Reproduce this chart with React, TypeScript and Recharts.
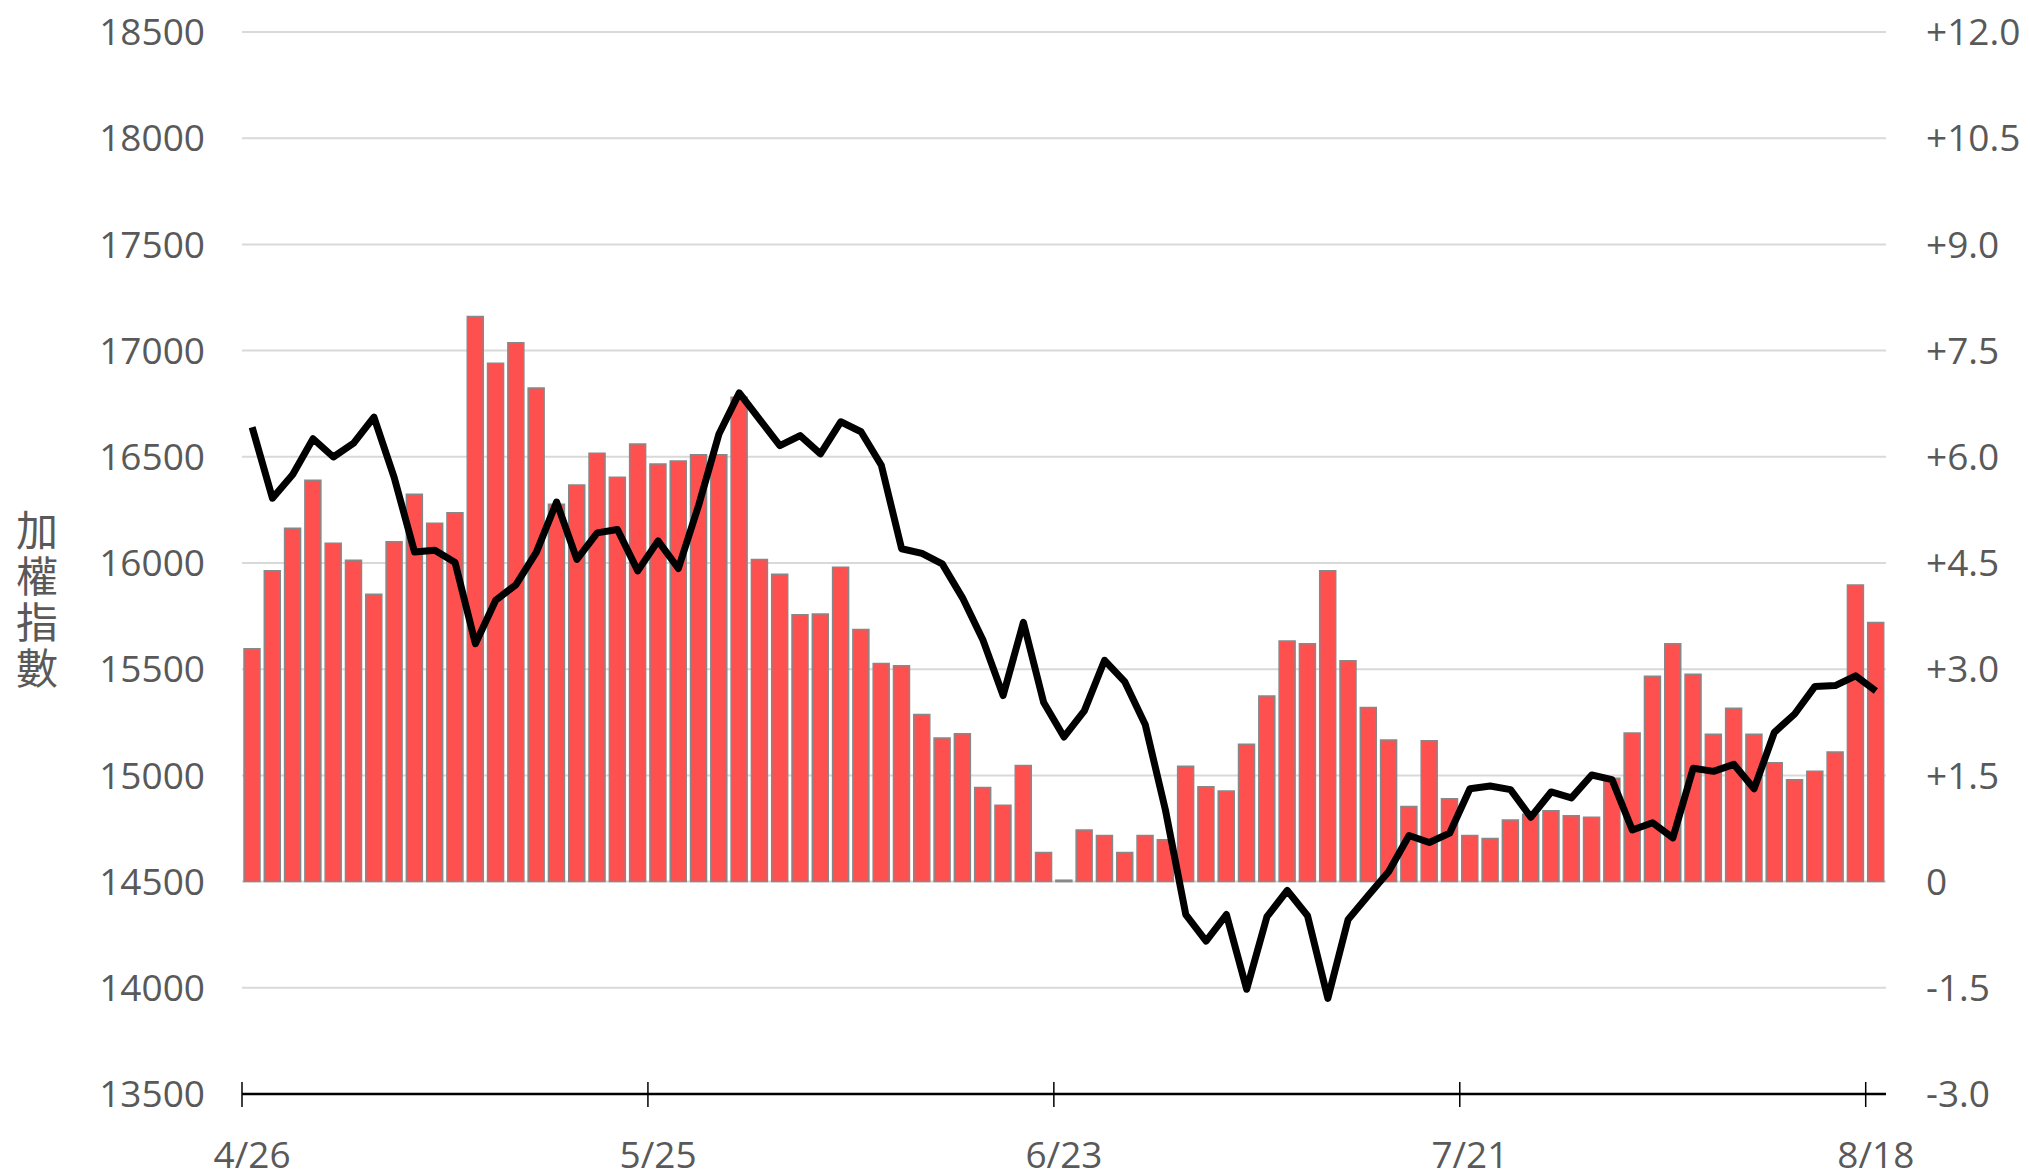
import React from "react";
import { ComposedChart, Bar, Line, XAxis, YAxis, CartesianGrid } from "recharts";

// ─── Données ────────────────────────────────────────────────────────────────
const DATES = [
  "4/26", "4/27", "4/28", "4/29",
  "5/3", "5/4", "5/5", "5/6", "5/9", "5/10", "5/11", "5/12", "5/13",
  "5/16", "5/17", "5/18", "5/19", "5/20", "5/23", "5/24", "5/25", "5/26", "5/27",
  "5/30", "5/31",
  "6/1", "6/2", "6/6", "6/7", "6/8", "6/9", "6/10", "6/13", "6/14", "6/15", "6/16", "6/17",
  "6/20", "6/21", "6/22", "6/23", "6/24", "6/27", "6/28", "6/29", "6/30",
  "7/1", "7/4", "7/5", "7/6", "7/7", "7/8", "7/11", "7/12", "7/13", "7/14", "7/15",
  "7/18", "7/19", "7/20", "7/21", "7/22", "7/25", "7/26", "7/27", "7/28", "7/29",
  "8/1", "8/2", "8/3", "8/4", "8/5", "8/8", "8/9", "8/10", "8/11", "8/12",
  "8/15", "8/16", "8/17", "8/18",
];

// 加權指數 (left axis)
const INDEX = [
  16639, 16305, 16417, 16585, 16499, 16564, 16687, 16402, 16052, 16060,
  16002, 15620, 15825, 15898, 16050, 16287, 16017, 16142, 16158, 15963,
  16104, 15974, 16272, 16607, 16801, 16676, 16553, 16600, 16514, 16665,
  16618, 16460, 16067, 16045, 15996, 15836, 15639, 15376, 15721, 15343,
  15181, 15304, 15542, 15440, 15240, 14836, 14345, 14220, 14345, 13993,
  14335, 14458, 14339, 13950, 14322, 14436, 14548, 14717, 14684, 14728,
  14937, 14950, 14933, 14803, 14922, 14894, 15002, 14980, 14743, 14777,
  14706, 15034, 15019, 15052, 14937, 15203, 15289, 15419, 15423, 15469,
  15397,
];

// bars (right axis, %)
const PCT = [
  3.29, 4.39, 4.99, 5.67, 4.78, 4.54, 4.06, 4.8, 5.47, 5.06,
  5.21, 7.98, 7.32, 7.61, 6.97, 5.33, 5.6, 6.05, 5.71, 6.18,
  5.9, 5.94, 6.03, 6.03, 6.84, 4.55, 4.34, 3.77, 3.78, 4.44,
  3.56, 3.08, 3.05, 2.36, 2.03, 2.09, 1.33, 1.08, 1.64, 0.41,
  0.02, 0.73, 0.65, 0.41, 0.65, 0.59, 1.63, 1.34, 1.28, 1.94,
  2.62, 3.4, 3.36, 4.39, 3.12, 2.46, 2.0, 1.06, 1.99, 1.17,
  0.65, 0.61, 0.87, 0.95, 1.0, 0.93, 0.91, 1.46, 2.1, 2.9,
  3.36, 2.93, 2.08, 2.45, 2.08, 1.68, 1.44, 1.56, 1.83, 4.19,
  3.66,
];

const LEFT_TICKS = [13500, 14000, 14500, 15000, 15500, 16000, 16500, 17000, 17500, 18000, 18500];
const RIGHT_TICKS = [-3, -1.5, 0, 1.5, 3, 4.5, 6, 7.5, 9, 10.5, 12];
const AXIS_TITLE = ["加", "權", "指", "數"];

// ─── Mise en page ───────────────────────────────────────────────────────────
const W = 2030;
const H = 1176;
const PLOT_LEFT = 242;
const PLOT_RIGHT = 1886;
const BAND = (PLOT_RIGHT - PLOT_LEFT) / DATES.length;
const FONT = "'Open Sans', sans-serif";
const TEXT = "#595959";

const data = DATES.map((d, i) => ({ date: d, index: INDEX[i], pct: PCT[i] }));

const fmtRight = (v: number) => (v > 0 ? `+${v.toFixed(1)}` : v === 0 ? "0" : v.toFixed(1));

// tick mark between categories, label at the band centre
function DateTick({ x, y, payload }: any) {
  const edge = x - BAND / 2;
  return (
    <g>
      <line x1={edge} x2={edge} y1={y - 12} y2={y + 13} stroke="#000" strokeWidth={1.5} />
      <text x={x} y={y + 74} textAnchor="middle" fill={TEXT} fontSize={37} fontFamily={FONT}>
        {payload.value}
      </text>
    </g>
  );
}

export default function App() {
  return (
    <div style={{ position: "absolute", left: 0, top: 0, width: W, height: H, background: "#fff" }}>
      <ComposedChart width={W} height={H} data={data} margin={{ top: 32, right: 0, bottom: 0, left: 0 }}>
        <CartesianGrid yAxisId="left" vertical={false} stroke="#d9d9d9" strokeWidth={2} />
        <XAxis
          dataKey="date"
          height={82}
          interval={19}
          tickSize={0}
          tickMargin={0}
          tickLine={false}
          axisLine={{ stroke: "#000", strokeWidth: 2.5 }}
          tick={<DateTick />}
        />
        <YAxis
          yAxisId="left"
          orientation="left"
          width={PLOT_LEFT}
          domain={[13500, 18500]}
          ticks={LEFT_TICKS}
          axisLine={false}
          tickLine={false}
          tickSize={0}
          tickMargin={37}
          tick={{ fontSize: 37, fill: TEXT, fontFamily: FONT }}
        />
        <YAxis
          yAxisId="right"
          orientation="right"
          width={W - PLOT_RIGHT}
          domain={[-3, 12]}
          ticks={RIGHT_TICKS}
          tickFormatter={fmtRight}
          axisLine={false}
          tickLine={false}
          tickSize={0}
          tickMargin={40}
          tick={{ fontSize: 37, fill: TEXT, fontFamily: FONT, textAnchor: "start" }}
        />
        <Bar
          yAxisId="right"
          dataKey="pct"
          barSize={16}
          fill="#FF5050"
          stroke="#888888"
          strokeWidth={1.5}
          isAnimationActive={false}
        />
        <Line
          yAxisId="left"
          type="linear"
          dataKey="index"
          stroke="#000"
          strokeWidth={7}
          strokeLinejoin="round"
          dot={false}
          activeDot={false}
          isAnimationActive={false}
        />
      </ComposedChart>
      <div
        style={{
          position: "absolute",
          left: 15,
          top: 505,
          width: 44,
          fontSize: 42,
          lineHeight: "46px",
          textAlign: "center",
          color: TEXT,
          fontFamily: "'Noto Sans CJK TC', sans-serif",
        }}
      >
        {AXIS_TITLE.map((c) => (
          <div key={c}>{c}</div>
        ))}
      </div>
    </div>
  );
}
